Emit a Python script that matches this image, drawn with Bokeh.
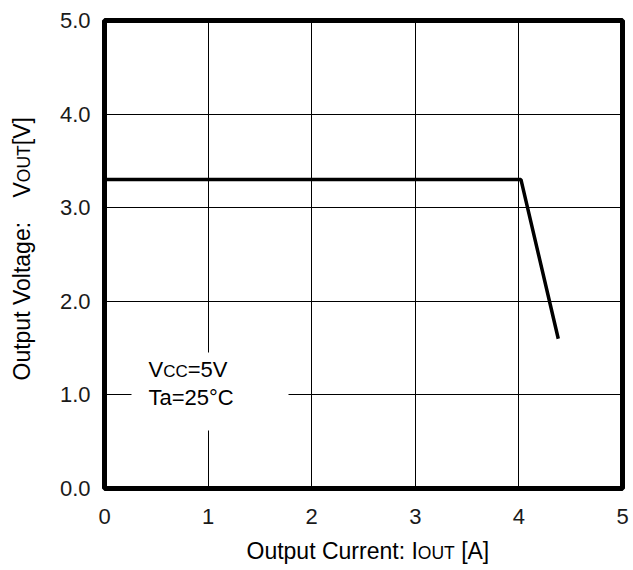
import math
from bokeh.plotting import figure
from bokeh.models import Label, BoxAnnotation, FixedTicker, Range1d
from bokeh.layouts import row, column
from bokeh.embed import file_html
from bokeh.resources import INLINE

# ---- data ----
current = [0.0, 4.02, 4.38]
voltage = [3.3, 3.3, 1.6]
x_ticks = [0, 1, 2, 3, 4, 5]
x_tick_labels = ["0", "1", "2", "3", "4", "5"]
y_ticks = [0, 1, 2, 3, 4, 5]
y_tick_labels = ["0.0", "1.0", "2.0", "3.0", "4.0", "5.0"]

# ---- layout (page pixels) ----
W, H = 631, 570
LW = 40            # strip for the y title
BH = 34            # strip for the x title
FL, FT = 104, 20   # frame left / top on the page
FW, FH = 518, 468
MW, MH = W - LW, H - BH
ML, MT = FL - LW, FT
MR = MW - ML - FW
MB = MH - MT - FH

FONT = "Liberation Sans"
TICK = 22
BIG = 23
NOTE = 22
SMALL = 17.5
NOTE_SMALL = 17
MID = 0.35   # text middle above baseline, in em

# Arial advance widths (em)
AW = {'O': .778, 'u': .556, 't': .278, 'p': .556, ' ': .278, 'V': .667, 'o': .556,
      'l': .222, 'a': .556, 'g': .556, 'e': .556, ':': .278, 'C': .722, 'r': .333,
      'n': .556, 'I': .278, 'U': .722, 'T': .611, '[': .278, ']': .278, 'A': .667,
      '=': .584, '5': .556, '2': .556, '°': .4}


def tw(s, size):
    return sum(AW.get(c, .556) for c in s) * size


def dx(xp):  # page pixel -> data x
    return (xp - FL) / FW * 5.0


def dy(yp):  # page pixel -> data y
    return ((FT + FH) - yp) / FH * 5.0


p = figure(width=MW, height=MH, x_range=Range1d(0, 5), y_range=Range1d(0, 5),
           output_backend="svg", toolbar_location=None,
           min_border_left=ML, min_border_right=MR, min_border_top=MT,
           min_border_bottom=MB)
p.background_fill_color = "white"
p.border_fill_color = "white"
p.outline_line_color = "black"
p.outline_line_width = 5

p.xaxis.ticker = FixedTicker(ticks=x_ticks)
p.yaxis.ticker = FixedTicker(ticks=y_ticks)
p.xaxis.major_label_overrides = {t: l for t, l in zip(x_ticks, x_tick_labels)}
p.yaxis.major_label_overrides = {t: l for t, l in zip(y_ticks, y_tick_labels)}
for ax in (p.xaxis, p.yaxis):
    ax.axis_line_color = None
    ax.major_tick_line_color = None
    ax.minor_tick_line_color = None
    ax.major_tick_in = 0
    ax.major_tick_out = 0
    ax.major_label_text_font = FONT
    ax.major_label_text_font_size = f"{TICK}px"
    ax.major_label_text_color = "#1a1a1a"
p.xaxis.major_label_standoff = 20
p.yaxis.major_label_standoff = 14

p.xgrid.ticker = FixedTicker(ticks=x_ticks)
p.ygrid.ticker = FixedTicker(ticks=y_ticks)
for g in (p.xgrid, p.ygrid):
    g.grid_line_color = "black"
    g.grid_line_width = 1

p.line(current, voltage, line_width=3.5, line_color="black")

# white box behind the conditions note
p.add_layout(BoxAnnotation(left=dx(131), right=dx(288), bottom=dy(430), top=dy(352),
                           fill_color="white", fill_alpha=1.0, line_color=None))


def lab(fig, x, y, text, size, angle=0.0):
    fig.add_layout(Label(x=x, y=y, text=text, text_font=FONT,
                         text_font_size=f"{size}px", text_color="black",
                         text_align="left", text_baseline="middle",
                         angle=angle))


# conditions note (inside the frame, data coordinates); y = baseline - middle
x0 = 148
b1, b2 = 377, 405
lab(p, dx(x0), dy(b1 - MID * NOTE), "V", NOTE)
x1 = x0 + tw("V", NOTE)
lab(p, dx(x1), dy(b1 - MID * NOTE_SMALL), "CC", NOTE_SMALL)
x2 = x1 + tw("CC", NOTE_SMALL)
lab(p, dx(x2), dy(b1 - MID * NOTE), "=5V", NOTE)
lab(p, dx(x0), dy(b2 - MID * NOTE), "Ta=25°C", NOTE)


def strip(w, h, xr, yr, **borders):
    f = figure(width=w, height=h, x_range=Range1d(*xr), y_range=Range1d(*yr),
               output_backend="svg", toolbar_location=None,
               x_axis_location=None, y_axis_location=None, **borders)
    f.grid.visible = False
    f.outline_line_color = None
    f.background_fill_color = "white"
    f.border_fill_color = "white"
    return f


# x axis title strip: frame spans the main frame's width; coordinates = page pixels
bx = strip(MW, BH, (FL, FL + FW), (H, MH),
           min_border_left=ML, min_border_right=MR,
           min_border_top=0, min_border_bottom=0)
xa = 246
base_x = 559
lab(bx, xa, base_x - MID * BIG, "Output Current: I", BIG)
xb = xa + tw("Output Current: I", BIG)
lab(bx, xb, base_x - MID * SMALL, "OUT", SMALL)
xc = xb + tw("OUT", SMALL) + tw(" ", BIG)
lab(bx, xc, base_x - MID * BIG, "[A]", BIG)

# y axis title strip: frame spans the main frame's height (rotated text)
ly = strip(LW, H, (0, LW), (FT + FH, FT),
           min_border_left=0, min_border_right=0,
           min_border_top=FT, min_border_bottom=H - FT - FH)
ang = math.pi / 2
base_y = 30
lab(ly, base_y - MID * BIG, 380, "Output Voltage:", BIG, ang)
yb = 197
lab(ly, base_y - MID * BIG, yb, "V", BIG, ang)
yc = yb - tw("V", BIG)
lab(ly, base_y - MID * SMALL, yc, "OUT", SMALL, ang)
yd = yc - tw("OUT", SMALL)
lab(ly, base_y - MID * BIG, yd, "[V]", BIG, ang)

layout = row(ly, column(p, bx, spacing=0), spacing=0)
open("out.html", "w").write(file_html(layout, INLINE))
